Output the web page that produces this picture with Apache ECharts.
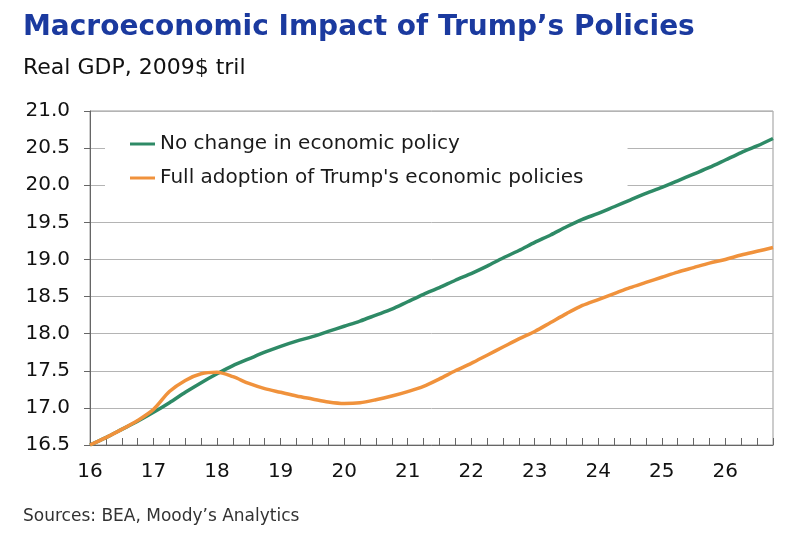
<!DOCTYPE html>
<html>
<head>
<meta charset="utf-8">
<script src="https://cdn.jsdelivr.net/npm/echarts@6/dist/echarts.min.js"></script>
<style>
  html, body { margin: 0; padding: 0; background: #fff; }
  #chart { width: 800px; height: 556px; }
</style>
</head>
<body>
<div id="chart"></div>
<script>
// years shown on the x axis, data is quarterly 16Q1..26Q4
const years = ["16", "17", "18", "19", "20", "21", "22", "23", "24", "25", "26"];
const quarters = [];
years.forEach(y => { for (let q = 1; q <= 4; q++) quarters.push(y + "Q" + q); });

const seriesNames = ["No change in economic policy", "Full adoption of Trump's economic policies"];

// real GDP, 2009$ tril
const noChange = [
  16.50, 16.60, 16.71, 16.82, 16.94, 17.07, 17.21, 17.34, 17.46, 17.57, 17.66, 17.75,
  17.83, 17.90, 17.96, 18.03, 18.10, 18.17, 18.25, 18.33, 18.43, 18.53, 18.62, 18.72,
  18.81, 18.91, 19.02, 19.12, 19.23, 19.33, 19.44, 19.54, 19.62, 19.71, 19.80, 19.89,
  19.97, 20.06, 20.15, 20.24, 20.34, 20.44, 20.53, 20.63
];
const trumpPolicies = [
  16.50, 16.60, 16.71, 16.83, 16.98, 17.22, 17.37, 17.46, 17.48, 17.42, 17.33, 17.26,
  17.21, 17.16, 17.12, 17.08, 17.06, 17.07, 17.11, 17.16, 17.22, 17.29, 17.39, 17.50,
  17.60, 17.71, 17.82, 17.93, 18.03, 18.15, 18.27, 18.38, 18.46, 18.54, 18.62, 18.69,
  18.76, 18.83, 18.89, 18.95, 19.00, 19.06, 19.11, 19.16
];

const FONT = "DejaVu Sans";
const AXIS = "#666";
const GRID = "#b4b4b4";

const chart = echarts.init(document.getElementById("chart"));

chart.setOption({
  backgroundColor: "#fff",
  animation: false,
  graphic: [
    { type: "text", left: 23, top: 13.5,
      style: { text: "Macroeconomic Impact of Trump\u2019s Policies", fontSize: 28, fontWeight: "bold", fontFamily: FONT, fill: "#1b3a9f" } },
    { type: "text", left: 23, top: 57.5,
      style: { text: "Real GDP, 2009$ tril", fontSize: 22, fontFamily: FONT, fill: "#111" } },
    { type: "text", left: 23, top: 508,
      style: { text: "Sources: BEA, Moody\u2019s Analytics", fontSize: 17, fontFamily: FONT, fill: "#333" } }
  ],
  legend: {
    orient: "vertical",
    left: 105,
    top: 120,
    padding: [13, 44, 21, 25],
    backgroundColor: "#fff",
    z: 1,
    icon: "rect",
    itemWidth: 25,
    itemHeight: 3,
    itemGap: 12,
    textStyle: { fontSize: 20, fontFamily: FONT, color: "#1a1a1a", lineHeight: 22 },
    data: seriesNames
  },
  grid: {
    left: 90, right: 27, top: 111, bottom: 111,
    show: true, borderColor: "#999", borderWidth: 1
  },
  xAxis: {
    type: "category",
    data: quarters,
    boundaryGap: false,
    axisLine: { lineStyle: { color: AXIS } },
    axisTick: { inside: true, length: 7, interval: 0, lineStyle: { color: AXIS } },
    axisLabel: {
      interval: 3, margin: 17, fontSize: 20, fontFamily: FONT, color: "#111",
      formatter: v => v.slice(0, 2)
    },
    splitLine: { show: false }
  },
  yAxis: {
    type: "value",
    min: 16.5, max: 21, interval: 0.5,
    axisLine: { show: true, lineStyle: { color: AXIS } },
    axisTick: { show: true, length: 6, lineStyle: { color: AXIS } },
    axisLabel: { margin: 20, fontSize: 20, fontFamily: FONT, color: "#111", formatter: v => v.toFixed(1) },
    splitLine: { lineStyle: { color: GRID } }
  },
  series: [
    { name: seriesNames[0], type: "line", data: noChange, smooth: 0.3, showSymbol: false,
      lineStyle: { width: 3.5, color: "#2e8a66" }, itemStyle: { color: "#2e8a66" } },
    { name: seriesNames[1], type: "line", data: trumpPolicies, smooth: 0.3, showSymbol: false,
      lineStyle: { width: 3.5, color: "#f0923c" }, itemStyle: { color: "#f0923c" } }
  ]
});
</script>
</body>
</html>
